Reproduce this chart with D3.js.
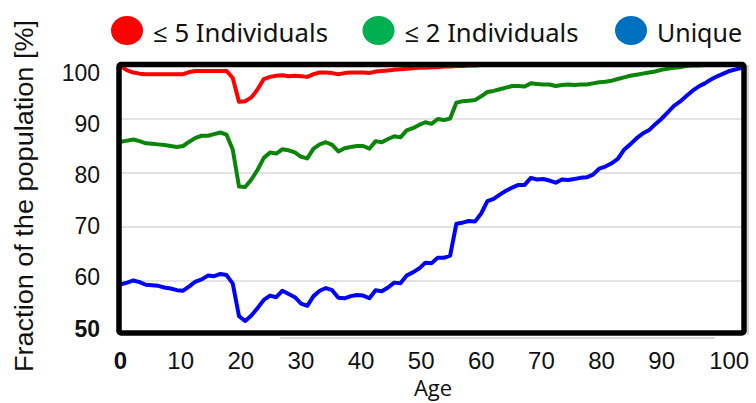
<!DOCTYPE html>
<html lang="en">
    <head>
	<meta charset="utf-8">
	<title>Fraction of the population</title>
	<script src="https://cdn.jsdelivr.net/npm/d3@7/dist/d3.min.js" charset="utf-8"></script>
	<style>
	 body { margin: 0; background: #fff; }
	</style>
    </head>
    <body>
	<script type="text/javascript">

	 //Data, one value per year of age
	 var ages = d3.range(0, 101);

	 var five = [99.7, 99.0, 98.6, 98.4, 98.3, 98.3, 98.3, 98.3, 98.3, 98.3,
		     98.3, 98.7, 98.9, 98.9, 98.9, 98.9, 98.9, 98.9, 97.6, 93.2,
		     93.3, 94.0, 95.5, 97.4, 97.8, 98.0, 98.1, 97.9, 98.0, 97.9,
		     97.8, 98.3, 98.6, 98.6, 98.5, 98.3, 98.5, 98.6, 98.6, 98.6,
		     98.5, 98.8, 98.9, 99.0, 99.1, 99.2, 99.3, 99.4, 99.5, 99.5,
		     99.6, 99.6, 99.7, 99.7, 99.8, 99.8, 99.9, 99.9, 100, 100,
		     100, 100, 100, 100, 100, 100, 100, 100, 100, 100,
		     100, 100, 100, 100, 100, 100, 100, 100, 100, 100,
		     100, 100, 100, 100, 100, 100, 100, 100, 100, 100,
		     100, 100, 100, 100, 100, 100, 100, 100, 100, 100,
		     100];

	 var two = [85.8, 86.0, 86.2, 85.9, 85.5, 85.4, 85.3, 85.2, 85.0, 84.8,
		    85.0, 85.8, 86.5, 86.9, 86.9, 87.2, 87.5, 87.1, 84.3, 77.5,
		    77.4, 78.8, 80.6, 82.8, 83.8, 83.6, 84.4, 84.2, 83.8, 83.0,
		    82.7, 84.5, 85.3, 85.7, 85.2, 84.0, 84.6, 84.8, 85.0, 85.0,
		    84.5, 85.9, 85.7, 86.3, 86.8, 86.6, 87.9, 88.3, 88.9, 89.4,
		    89.1, 90.0, 89.8, 90.1, 93.0, 93.3, 93.4, 93.5, 94.2, 95.0,
		    95.2, 95.5, 95.8, 96.1, 96.1, 96.0, 96.6, 96.5, 96.4, 96.4,
		    96.1, 96.3, 96.4, 96.3, 96.4, 96.4, 96.6, 96.8, 96.9, 97.1,
		    97.4, 97.7, 98.0, 98.2, 98.4, 98.6, 98.8, 99.1, 99.3, 99.5,
		    99.6, 99.8, 99.9, 99.9, 100, 100, 100, 100, 100, 100,
		    100];

	 var unique = [59.4, 59.7, 60.1, 59.8, 59.3, 59.2, 59.1, 58.8, 58.6, 58.3,
		       58.2, 59.0, 59.9, 60.3, 61.0, 60.9, 61.3, 61.1, 59.5, 53.5,
		       52.6, 53.6, 55.0, 56.5, 57.3, 57.0, 58.2, 57.6, 57.0, 55.8,
		       55.4, 57.2, 58.2, 58.7, 58.3, 56.9, 56.8, 57.2, 57.4, 57.3,
		       56.8, 58.3, 58.1, 58.8, 59.7, 59.6, 61.0, 61.6, 62.3, 63.4,
		       63.3, 64.3, 64.3, 64.7, 70.6, 70.8, 71.1, 71.0, 72.5, 74.8,
		       75.2, 76.0, 76.7, 77.3, 77.8, 77.8, 79.1, 78.8, 78.9, 78.6,
		       78.2, 78.8, 78.7, 78.9, 79.1, 79.2, 79.7, 80.8, 81.2, 81.8,
		       82.6, 84.3, 85.3, 86.4, 87.3, 87.9, 89.0, 90.0, 91.2, 92.4,
		       93.2, 94.2, 95.2, 96.0, 96.6, 97.3, 97.9, 98.4, 98.9, 99.2,
		       99.5];

	 var seriesNames = ["\u2264 5 Individuals", "\u2264 2 Individuals", "Unique"];
	 var xTicks = [0, 10, 20, 30, 40, 50, 60, 70, 80, 90, 100];
	 var yTicks = [50, 60, 70, 80, 90, 100];
	 var gridValues = [60, 70, 80, 90];

	 var lineColors = ["#ff0000", "#0a850a", "#0000ff"];
	 var legendColors = ["#ff0000", "#00b050", "#0070c0"];

	 var width = 756;
	 var height = 403;

	 var svg = d3.select("body")
		     .append("svg")
		     .attr("width", width)
		     .attr("height", height);

	 //Scales for the data
	 var xScale = d3.scaleLinear()
			.domain([0, 100])
			.range([121, 742]);

	 var yScale = d3.scaleLinear()
			.domain([50, 100])
			.range([335, 65]);

	 //Tick labels sit on their own spacing in the picture
	 var xLabelScale = d3.scaleLinear()
			     .domain([0, 90])
			     .range([120.5, 661.7]);

	 var yLabelScale = d3.scaleLinear()
			     .domain([50, 100])
			     .range([328.5, 73]);

	 //Grid lines
	 svg.append("g")
	    .selectAll("line")
	    .data(gridValues)
	    .enter()
	    .append("line")
	    .attr("x1", xScale(0))
	    .attr("x2", xScale(100))
	    .attr("y1", function (d) { return yScale(d); })
	    .attr("y2", function (d) { return yScale(d); })
	    .style("stroke", "#dadada")
	    .style("stroke-width", 1.5);

	 //faint leftover lines outside the frame
	 svg.append("line")
	    .attr("x1", xScale(25.6))
	    .attr("x2", xScale(95.6))
	    .attr("y1", yScale(50) + 3)
	    .attr("y2", yScale(50) + 3)
	    .style("stroke", "#c8c8c8")
	    .style("stroke-width", 1.5);

	 svg.append("line")
	    .attr("x1", xScale(100) + 6)
	    .attr("x2", xScale(100) + 6)
	    .attr("y1", yScale(100))
	    .attr("y2", yScale(50))
	    .style("stroke", "#c8c8c8")
	    .style("stroke-width", 1.5);

	 //Lines
	 var series = [five, two, unique];

	 var line = d3.line()
		      .x(function (d, i) { return xScale(ages[i]); })
		      .y(function (d) { return yScale(d); });

	 svg.append("g")
	    .selectAll("path")
	    .data(series)
	    .enter()
	    .append("path")
	    .attr("d", line)
	    .style("fill", "none")
	    .style("stroke", function (d, i) { return lineColors[i]; })
	    .style("stroke-width", 4)
	    .style("stroke-linejoin", "round")
	    .style("stroke-linecap", "round");

	 //Frame
	 svg.append("rect")
	    .attr("x", xScale(0) - 2)
	    .attr("y", yScale(100) - 0.5)
	    .attr("width", xScale(100) - xScale(0) + 4)
	    .attr("height", yScale(50) - yScale(100) - 1.5)
	    .attr("rx", 2)
	    .style("fill", "none")
	    .style("stroke", "#000")
	    .style("stroke-width", 5.5)
	    .style("stroke-linejoin", "round");

	 //X tick labels
	 svg.append("g")
	    .selectAll("text")
	    .data(xTicks)
	    .enter()
	    .append("text")
	    .attr("x", function (d) { return d == 100 ? xLabelScale(90) + 67.5 : xLabelScale(d); })
	    .attr("y", 369)
	    .attr("text-anchor", "middle")
	    .style("font-family", "'Liberation Sans', Arial, sans-serif")
	    .style("font-size", "24px")
	    .style("font-weight", function (d) { return d == 0 ? "bold" : "normal"; })
	    .style("fill", "#111")
	    .text(function (d) { return d; });

	 //Y tick labels
	 svg.append("g")
	    .selectAll("text")
	    .data(yTicks)
	    .enter()
	    .append("text")
	    .attr("x", 100)
	    .attr("y", function (d) { return yLabelScale(d) + 8; })
	    .attr("text-anchor", "end")
	    .style("font-family", "'Liberation Sans', Arial, sans-serif")
	    .style("font-size", "23px")
	    .style("font-weight", function (d) { return d == 50 ? "bold" : "normal"; })
	    .style("fill", "#111")
	    .text(function (d) { return d; });

	 //Axis titles
	 svg.append("text")
	    .attr("x", 433)
	    .attr("y", 396)
	    .attr("text-anchor", "middle")
	    .style("font-family", "'Open Sans', 'Noto Sans', sans-serif")
	    .style("font-size", "22px")
	    .style("fill", "#111")
	    .text("Age");

	 svg.append("text")
	    .attr("transform", "translate(33,196) rotate(-90)")
	    .attr("text-anchor", "middle")
	    .attr("textLength", 352)
	    .attr("lengthAdjust", "spacingAndGlyphs")
	    .style("font-family", "'Liberation Sans', Arial, sans-serif")
	    .style("font-size", "25px")
	    .style("fill", "#111")
	    .text("Fraction of the population [%]");

	 //Legend
	 var legendX = [127, 378.5, 631];
	 var legendWidths = [175, 174, 85];

	 var legend = svg.append("g")
			 .selectAll("g")
			 .data(seriesNames)
			 .enter()
			 .append("g")
			 .attr("transform", function (d, i) { return "translate(" + legendX[i] + ",30.5)"; });

	 legend.append("ellipse")
	       .attr("rx", 16)
	       .attr("ry", 14.5)
	       .style("fill", function (d, i) { return legendColors[i]; });

	 legend.append("text")
	       .attr("x", 26)
	       .attr("y", 11.5)
	       .attr("textLength", function (d, i) { return legendWidths[i]; })
	       .attr("lengthAdjust", "spacingAndGlyphs")
	       .style("font-family", "'Noto Sans', 'Open Sans', sans-serif")
	       .style("font-size", "25px")
	       .style("fill", "#111")
	       .text(function (d) { return d; });

	</script>
    </body>
</html>
